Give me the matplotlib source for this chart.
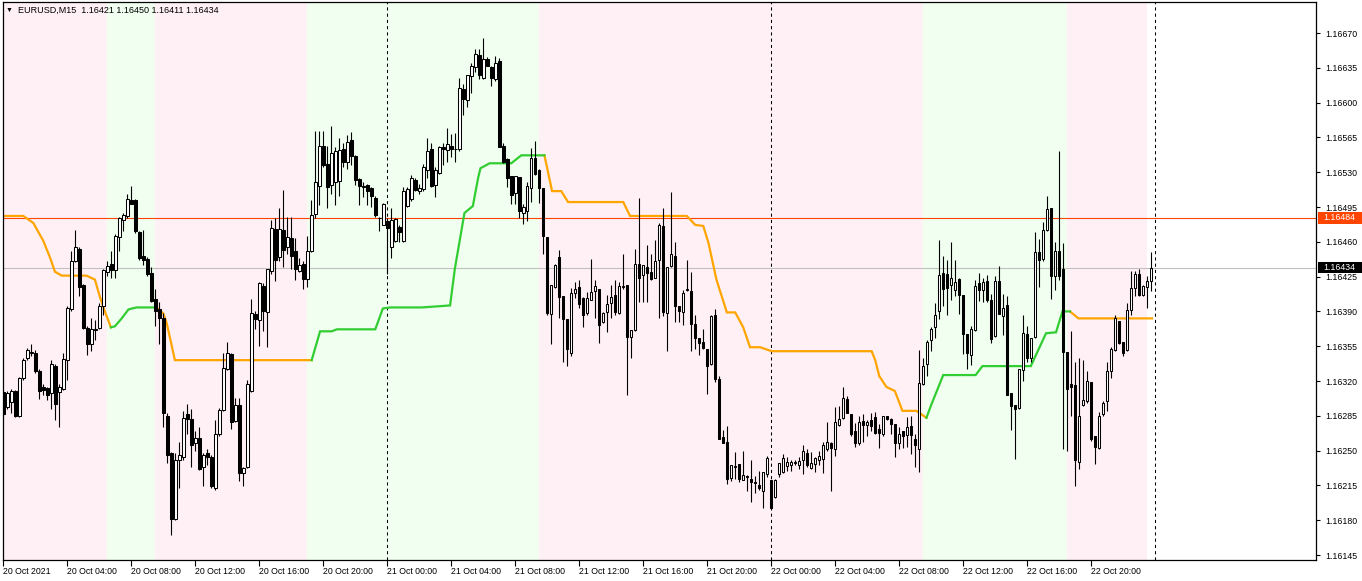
import numpy as np
import matplotlib
matplotlib.use("Agg")
import matplotlib.pyplot as plt
from matplotlib.patches import Rectangle
from matplotlib.transforms import blended_transform_factory

plt.rcParams['font.family'] = ['Liberation Sans', 'DejaVu Sans']

BASE = 1.16000
PT = 0.00001

# EURUSD M15, 20 Oct 00:00 .. 22 Oct 23:45, prices in points above 1.16000
open_pts = [309, 294, 299, 310, 285, 323, 343, 348, 348, 330, 314, 313, 308, 335, 309, 312,
            341, 392, 441, 453, 417, 373, 357, 371, 373, 395, 430, 438, 432, 465, 482, 486,
            502, 502, 470, 446, 443, 429, 402, 392, 383, 285, 248, 181, 241, 244, 287, 282,
            258, 263, 234, 248, 244, 212, 267, 291, 332, 347, 280, 296, 227, 234, 310, 387,
            381, 416, 389, 431, 473, 445, 472, 455, 464, 451, 431, 438, 423, 451, 488, 516,
            556, 538, 517, 520, 521, 553, 540, 562, 546, 523, 516, 517, 514, 504, 484, 477,
            481, 455, 461, 475, 461, 496, 503, 522, 511, 513, 532, 553, 517, 529, 555, 552,
            556, 553, 553, 614, 603, 627, 636, 648, 625, 644, 636, 624, 642, 556, 543, 526,
            509, 525, 489, 491, 514, 544, 532, 514, 465, 387, 415, 445, 406, 382, 348, 409,
            415, 404, 388, 401, 411, 413, 379, 389, 398, 407, 388, 415, 417, 364, 371, 438,
            427, 435, 430, 424, 442, 476, 388, 436, 446, 395, 389, 412, 411, 377, 363, 359,
            352, 337, 386, 322, 264, 259, 222, 234, 237, 220, 224, 221, 218, 215, 209, 226,
            220, 203, 226, 229, 235, 236, 238, 236, 241, 248, 233, 237, 241, 242, 252, 258,
            252, 276, 283, 302, 287, 270, 258, 280, 276, 281, 284, 272, 267, 285, 282, 277,
            258, 270, 266, 275, 262, 252, 317, 337, 361, 374, 390, 429, 428, 417, 412, 423,
            407, 367, 346, 371, 419, 412, 421, 401, 365, 421, 385, 396, 308, 296, 293, 331,
            367, 343, 364, 450, 443, 472, 494, 426, 451, 433, 349, 317, 316, 239, 296, 300,
            319, 265, 253, 287, 300, 330, 351, 380, 359, 351, 391, 414, 428, 407, 415, 421]
high_pts = [310, 310, 312, 311, 324, 343, 353, 357, 351, 332, 317, 314, 341, 337, 317, 348,
            395, 451, 472, 455, 418, 375, 383, 381, 398, 433, 441, 451, 468, 485, 489, 508,
            516, 503, 471, 472, 445, 435, 413, 399, 388, 288, 249, 248, 259, 290, 297, 292,
            270, 274, 248, 252, 246, 281, 293, 348, 359, 348, 303, 303, 234, 321, 402, 390,
            420, 419, 433, 482, 484, 494, 512, 485, 485, 464, 444, 441, 466, 502, 571, 571,
            571, 556, 576, 555, 564, 559, 567, 570, 547, 524, 520, 518, 515, 506, 485, 499,
            484, 494, 484, 477, 515, 515, 527, 524, 518, 538, 564, 559, 535, 556, 559, 574,
            568, 569, 625, 619, 628, 640, 654, 654, 665, 646, 637, 647, 645, 559, 544, 526,
            526, 525, 498, 520, 554, 561, 533, 514, 465, 417, 438, 452, 406, 382, 414, 420,
            422, 405, 410, 443, 422, 413, 389, 407, 417, 422, 420, 448, 417, 371, 453, 504,
            437, 457, 448, 462, 479, 494, 435, 510, 460, 395, 412, 442, 430, 386, 363, 372,
            352, 386, 392, 325, 271, 275, 236, 249, 237, 250, 225, 241, 224, 230, 229, 245,
            220, 221, 238, 247, 244, 241, 241, 244, 256, 252, 249, 244, 250, 259, 279, 259,
            294, 295, 314, 305, 287, 278, 285, 287, 281, 288, 289, 277, 285, 285, 283, 277,
            274, 270, 284, 285, 267, 351, 343, 361, 374, 398, 462, 446, 442, 460, 442, 424,
            407, 367, 375, 422, 429, 424, 427, 408, 426, 436, 408, 406, 308, 296, 332, 386,
            375, 363, 470, 463, 480, 506, 494, 460, 551, 459, 349, 370, 339, 343, 341, 330,
            319, 265, 289, 300, 339, 354, 386, 380, 359, 398, 431, 431, 433, 417, 426, 450]
low_pts = [285, 292, 288, 284, 284, 321, 341, 345, 328, 302, 306, 301, 292, 281, 274, 311,
           321, 390, 440, 406, 372, 346, 350, 361, 372, 386, 426, 424, 424, 451, 471, 484,
           498, 469, 442, 437, 426, 399, 375, 357, 274, 238, 165, 180, 212, 241, 267, 234,
           250, 231, 214, 236, 212, 210, 265, 290, 331, 272, 279, 219, 214, 233, 309, 372,
           355, 370, 354, 428, 421, 441, 435, 448, 433, 422, 430, 413, 415, 450, 484, 497,
           535, 494, 508, 497, 506, 535, 533, 537, 517, 497, 505, 497, 495, 485, 471, 477,
           428, 444, 460, 460, 460, 495, 501, 511, 508, 511, 524, 515, 505, 528, 537, 540,
           545, 540, 551, 588, 596, 610, 631, 624, 624, 637, 617, 622, 555, 539, 515, 498,
           498, 484, 478, 481, 500, 527, 499, 448, 386, 357, 414, 383, 339, 335, 345, 404,
           393, 374, 386, 401, 383, 358, 378, 369, 383, 386, 387, 413, 306, 343, 370, 399,
           399, 399, 422, 424, 383, 385, 350, 435, 379, 379, 376, 411, 350, 352, 346, 352,
           307, 336, 319, 262, 258, 216, 219, 221, 218, 220, 209, 198, 207, 210, 192, 223,
           191, 202, 223, 227, 230, 230, 236, 232, 226, 234, 232, 229, 236, 227, 250, 209,
           245, 275, 282, 288, 265, 254, 256, 259, 265, 270, 267, 253, 265, 281, 267, 244,
           252, 253, 254, 247, 234, 229, 316, 325, 350, 363, 382, 395, 386, 401, 406, 387,
           347, 332, 336, 370, 400, 399, 399, 358, 364, 387, 366, 306, 271, 242, 292, 320,
           339, 339, 363, 415, 441, 471, 402, 412, 422, 252, 250, 285, 214, 232, 295, 298,
           260, 237, 252, 285, 290, 323, 350, 357, 345, 350, 386, 406, 406, 406, 393, 411]
close_pts = [287, 308, 310, 285, 323, 341, 351, 349, 330, 310, 311, 306, 337, 297, 314, 342,
             393, 441, 455, 415, 373, 357, 372, 372, 395, 432, 436, 432, 466, 484, 487, 503,
             498, 471, 444, 442, 428, 400, 390, 383, 288, 246, 181, 241, 246, 283, 282, 256,
             263, 232, 246, 244, 214, 267, 291, 333, 348, 279, 296, 227, 233, 317, 388, 382,
             419, 390, 433, 474, 442, 473, 452, 465, 446, 433, 437, 423, 451, 487, 520, 556,
             537, 515, 549, 551, 552, 540, 560, 546, 522, 516, 515, 511, 506, 487, 484, 498,
             474, 482, 483, 470, 511, 513, 524, 512, 514, 535, 551, 516, 532, 555, 553, 558,
             553, 553, 615, 604, 628, 637, 649, 628, 644, 637, 625, 640, 555, 540, 524, 507,
             526, 491, 495, 516, 544, 528, 514, 466, 388, 417, 437, 405, 382, 352, 409, 413,
             397, 386, 404, 410, 416, 376, 388, 397, 405, 389, 416, 416, 364, 371, 438, 424,
             437, 429, 423, 441, 477, 389, 435, 448, 395, 390, 409, 413, 377, 363, 358, 353,
             335, 385, 322, 262, 258, 221, 236, 235, 221, 225, 223, 218, 217, 212, 229, 243,
             192, 220, 238, 243, 239, 239, 239, 240, 250, 236, 238, 243, 245, 256, 259, 253,
             279, 282, 303, 288, 267, 258, 279, 276, 279, 275, 268, 268, 285, 282, 277, 258,
             267, 265, 274, 266, 256, 318, 335, 359, 372, 386, 427, 413, 414, 424, 420, 407,
             367, 348, 372, 416, 412, 420, 401, 362, 421, 387, 393, 306, 295, 292, 332, 368,
             343, 363, 450, 442, 472, 493, 426, 451, 426, 349, 312, 314, 241, 285, 301, 320,
             262, 254, 285, 298, 330, 352, 383, 358, 348, 391, 414, 428, 407, 416, 421, 434]

# trailing line knots (bar index, points)
orange_segs = [
    ([0, 5.0, 7.5, 10.0, 11.7, 12.9, 14.6, 20.8, 22.9, 24.2, 25.4, 26.9],
     [486, 486, 479, 461, 444, 430, 426, 426, 422, 404, 390, 374]),
    ([38.3, 40.0, 40.8, 41.7, 42.9, 77.1],
     [394, 388, 379, 363, 341, 341]),
    ([135.3, 137.2, 139.5, 141.2, 155.0, 156.7, 170.9, 173.0, 175.0, 176.3, 178.3, 180.9,
      183.0, 185.0, 186.7, 189.2, 192.1, 217.1, 218.0, 219.0, 220.8, 222.9, 224.8, 228.3, 230.8],
     [547, 511, 511, 500, 500, 486, 486, 477, 476, 459, 422, 389,
      389, 374, 354, 354, 350, 350, 341, 325, 314, 310, 290, 290, 283]),
    ([266.7, 268.8, 287.2], [390, 383, 383]),
]
green_segs = [
    ([26.9, 27.9, 29.6, 31.3, 33.3, 38.3], [374, 375, 383, 392, 394, 394]),
    ([77.1, 79.2, 82.1, 83.4, 93.0, 94.9, 96.8, 104.6, 111.7, 112.9, 115.3, 117.4, 118.7,
      119.3, 121.6, 127.0, 129.5, 135.3],
     [341, 370, 370, 372, 372, 393, 394, 394, 396, 433, 489, 496, 524,
      534, 539, 539, 547, 547]),
    ([230.8, 232.0, 235.0, 243.1, 244.8, 256.9, 260.7, 263.2, 264.8, 266.7],
     [283, 296, 326, 326, 335, 335, 368, 369, 390, 390]),
]

zone_edges = [-1, 26, 38, 76, 134, 230, 266, 286]
zone_colors = ['#FFF0F5', '#F0FFF0', '#FFF0F5', '#F0FFF0', '#FFF0F5', '#F0FFF0', '#FFF0F5']
day_starts = [96, 192, 288]
level_line = 1.16484
bid_price = 1.16434

time_labels = ["20 Oct 2021", "20 Oct 04:00", "20 Oct 08:00", "20 Oct 12:00", "20 Oct 16:00",
               "20 Oct 20:00", "21 Oct 00:00", "21 Oct 04:00", "21 Oct 08:00", "21 Oct 12:00",
               "21 Oct 16:00", "21 Oct 20:00", "22 Oct 00:00", "22 Oct 04:00", "22 Oct 08:00",
               "22 Oct 12:00", "22 Oct 16:00", "22 Oct 20:00"]

o = BASE + np.array(open_pts) * PT
h = BASE + np.array(high_pts) * PT
l = BASE + np.array(low_pts) * PT
c = BASE + np.array(close_pts) * PT
idx = np.arange(len(o))

fig = plt.figure(figsize=(13.62, 5.81), dpi=100)
ax = fig.add_axes([3 / 1362, 21 / 581, 1313 / 1362, 558 / 581])

for k in range(len(zone_colors)):
    ax.axvspan(zone_edges[k], zone_edges[k + 1], color=zone_colors[k], lw=0, zorder=0)

for d in day_starts:
    ax.axvline(d, color='black', lw=0.75, ls=(0, (3, 3)), zorder=1)

ax.axhline(level_line, color='#FF4500', lw=0.8, zorder=1)
ax.axhline(bid_price, color='#C0C0C0', lw=0.8, zorder=1)

for xs, ys in orange_segs:
    ax.plot(xs, BASE + np.array(ys) * PT, color='#FFA500', lw=1.6, zorder=2,
            solid_joinstyle='miter')
for xs, ys in green_segs:
    ax.plot(xs, BASE + np.array(ys) * PT, color='#32CD32', lw=1.6, zorder=2,
            solid_joinstyle='miter')

# candles
ax.vlines(idx, l, h, color='black', lw=0.8, zorder=3)
bull = c >= o
bear = ~bull
ax.bar(idx[bull], (c - o)[bull], bottom=o[bull], width=0.62, color='white',
       edgecolor='black', lw=0.75, zorder=4)
ax.bar(idx[bear], (o - c)[bear], bottom=c[bear], width=0.62, color='black',
       edgecolor='black', lw=0.75, zorder=4)

ax.set_xlim(-0.075, 328.2)
ax.set_ylim(1.161400, 1.167012)

yt = 1.16145 + 0.00035 * np.arange(16)
ax.yaxis.tick_right()
ax.set_yticks(yt)
ax.set_yticklabels(["%.5f" % v for v in yt])
ax.tick_params(axis='y', length=3, width=0.8, pad=4, labelsize=6.3, colors='black')

ax.set_xticks(np.arange(len(time_labels)) * 16)
ax.set_xticklabels(time_labels, ha='left')
ax.tick_params(axis='x', length=4, width=0.8, pad=1, labelsize=6.3)

for s in ax.spines.values():
    s.set_linewidth(0.9)

# price tags on the right scale
tr = blended_transform_factory(ax.transAxes, ax.transData)
for price, col in [(level_line, '#FF4500'), (bid_price, 'black')]:
    ax.add_patch(Rectangle((1.0015, price - 0.000058), 0.0335, 0.000116, transform=tr,
                           facecolor=col, edgecolor='none', clip_on=False, zorder=10))
    ax.text(1.0053, price, "%.5f" % price, transform=tr, ha='left', va='center',
            color='white', fontsize=6.3, zorder=11, clip_on=False)

fig.text(6 / 1362, 1 - 10 / 581, "\u25bc", fontsize=5, va='center', ha='left')
fig.text(18 / 1362, 1 - 10 / 581, "EURUSD,M15  1.16421 1.16450 1.16411 1.16434",
         fontsize=6.5, va='center', ha='left')

fig.savefig("out.png", dpi=100)
